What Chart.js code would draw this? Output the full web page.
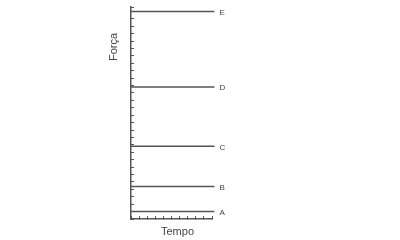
<!DOCTYPE html>
<html>
<head>
<meta charset="utf-8">
<script src="https://cdn.jsdelivr.net/npm/chart.js@4"></script>
<style>
  html, body { margin: 0; padding: 0; background: #fff; }
  #wrap { width: 400px; height: 240px; }
</style>
</head>
<body>
<div id="wrap"><canvas id="chart"></canvas></div>
<script>
// -------------------------
// Data
// -------------------------
const lineLabels = ["A", "B", "C", "D", "E"];
const forceValues = [1, 4.4, 9.8, 17.8, 28];
const timeStart = 0;
const timeEnd = 10.3;

const axisColor = "#555";
const textColor = "#444";

// -------------------------
// Labels at end of each line + axis titles
// -------------------------
const lineLabelPlugin = {
  id: "lineLabels",
  afterDatasetsDraw(chart) {
    const { ctx, chartArea } = chart;
    ctx.save();
    ctx.fillStyle = textColor;
    ctx.font = "8px Arial, 'Liberation Sans', sans-serif";
    ctx.textBaseline = "middle";
    chart.data.datasets.forEach((ds, i) => {
      const meta = chart.getDatasetMeta(i);
      const last = meta.data[meta.data.length - 1];
      ctx.fillText(ds.label, last.x + 5, last.y + 1);
    });

    // axis titles
    ctx.font = "11px Arial, 'Liberation Sans', sans-serif";
    ctx.textAlign = "center";
    ctx.fillText("Tempo", (chartArea.left + chartArea.right) / 2 + 6, chartArea.bottom + 13);
    ctx.translate(chartArea.left - 17, chartArea.top + 40);
    ctx.rotate(-Math.PI / 2);
    ctx.fillText("Força", 0, 0);
    ctx.restore();
  },
};

new Chart(document.getElementById("chart"), {
  type: "line",
  data: {
    datasets: lineLabels.map((lbl, i) => ({
      label: lbl,
      data: [
        { x: timeStart, y: forceValues[i] },
        { x: timeEnd, y: forceValues[i] },
      ],
      borderColor: axisColor,
      borderWidth: 1.5,
      pointRadius: 0,
      clip: false,
    })),
  },
  options: {
    responsive: true,
    maintainAspectRatio: false,
    animation: false,
    layout: { padding: { left: 131, right: 188, top: 7, bottom: 21 } },
    plugins: { legend: { display: false }, tooltip: { enabled: false } },
    scales: {
      x: {
        type: "linear",
        min: 0,
        max: 10,
        afterFit: s => { s.height = 0; },
        ticks: { display: false, stepSize: 1 },
        grid: { drawOnChartArea: false, tickLength: -3, color: axisColor },
        border: { color: axisColor, width: 1.5 },
      },
      y: {
        min: 0,
        max: 28.6,
        afterFit: s => { s.width = 0; },
        ticks: { display: false, stepSize: 1 },
        grid: { drawOnChartArea: false, tickLength: -3, color: axisColor },
        border: { color: axisColor, width: 1.5 },
      },
    },
  },
  plugins: [lineLabelPlugin],
});
</script>
</body>
</html>
